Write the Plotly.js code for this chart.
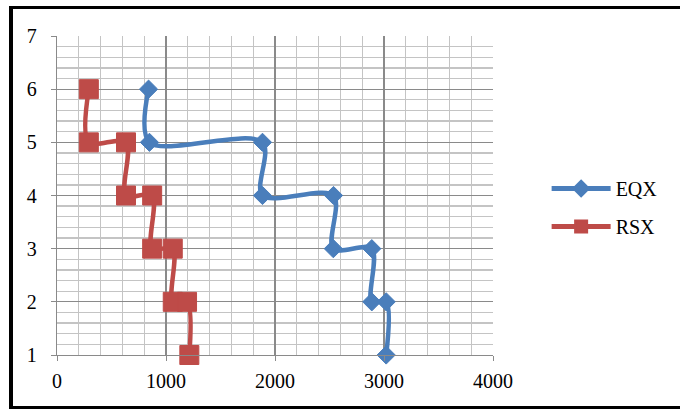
<!DOCTYPE html>
<html>
<head>
<meta charset="utf-8">
<script src="https://cdn.plot.ly/plotly-3.0.1.min.js"></script>
<style>
  html, body { margin: 0; padding: 0; background: #fff; overflow: hidden; }
  #chart { width: 680px; height: 409px; position: absolute; left: 0; top: 0; }
  #frame {
    position: absolute; left: 9px; top: 6px; width: 720px; height: 404px;
    box-sizing: border-box; border: 4px solid #000; border-top-width: 3px;
    pointer-events: none;
  }
</style>
</head>
<body>
<div id="chart"></div>
<div id="frame"></div>
<script>
// Storey levels and the two response series
const eqxX = [840, 848, 1885, 1885, 2537, 2535, 2888, 2888, 3020, 3020];
const eqxY = [6, 5, 5, 4, 4, 3, 3, 2, 2, 1];
const rsxX = [292, 292, 633, 633, 873, 873, 1062, 1062, 1193, 1214];
const rsxY = [6, 5, 5, 4, 4, 3, 3, 2, 2, 1];
const xTicks = [0, 1000, 2000, 3000, 4000];
const yTicks = [1, 2, 3, 4, 5, 6, 7];

const font = { family: 'Liberation Serif, Times New Roman, serif', size: 20, color: '#000' };

const traces = [
  {
    name: 'EQX', x: eqxX, y: eqxY, type: 'scatter', mode: 'lines+markers',
    line: { color: '#4A7EBB', width: 4.5, shape: 'spline', smoothing: 0.9 },
    marker: { symbol: 'diamond', size: 14, color: '#4A7EBB', line: { color: '#4A7EBB', width: 1 } },
    cliponaxis: false,
    legend: 'legend'
  },
  {
    name: 'RSX', x: rsxX, y: rsxY, type: 'scatter', mode: 'lines+markers',
    line: { color: '#BE4B48', width: 4.5, shape: 'spline', smoothing: 0.9 },
    marker: { symbol: 'square', size: 19, color: '#BE4B48', line: { color: '#BE4B48', width: 1 } },
    cliponaxis: false,
    legend: 'legend2'
  }
];

const legendBase = {
  xref: 'paper', yref: 'paper', xanchor: 'left', yanchor: 'middle',
  font: font, bgcolor: 'rgba(0,0,0,0)', itemsizing: 'constant', itemwidth: 59
};

const layout = {
  width: 680, height: 409,
  margin: { l: 57, r: 187, t: 36, b: 54 },
  paper_bgcolor: '#fff', plot_bgcolor: '#fff',
  font: font,
  showlegend: true,
  legend: Object.assign({}, legendBase, { x: 1.123, y: 0.522 }),
  legend2: Object.assign({}, legendBase, { x: 1.123, y: 0.403 }),
  xaxis: {
    range: [0, 4000], tickvals: xTicks, ticktext: xTicks.map(String),
    showgrid: true, gridcolor: '#8a8a8a', gridwidth: 1.3,
    minor: { dtick: 200, showgrid: true, gridcolor: '#c4c4c4', gridwidth: 1.3 },
    showline: true, linecolor: '#8a8a8a', linewidth: 1.3,
    ticks: 'outside', ticklen: 5, tickcolor: '#8a8a8a',
    zeroline: false, tickfont: font, ticklabelstandoff: 3
  },
  yaxis: {
    range: [1, 7], tickvals: yTicks, ticktext: yTicks.map(String),
    showgrid: true, gridcolor: '#8a8a8a', gridwidth: 1.3,
    minor: { dtick: 0.2, showgrid: true, gridcolor: '#c4c4c4', gridwidth: 1.3 },
    showline: true, linecolor: '#8a8a8a', linewidth: 1.3,
    ticks: 'outside', ticklen: 5, tickcolor: '#8a8a8a',
    zeroline: false, tickfont: font, ticklabelstandoff: 10
  }
};

Plotly.newPlot('chart', traces, layout, { staticPlot: true, displayModeBar: false });
</script>
</body>
</html>
